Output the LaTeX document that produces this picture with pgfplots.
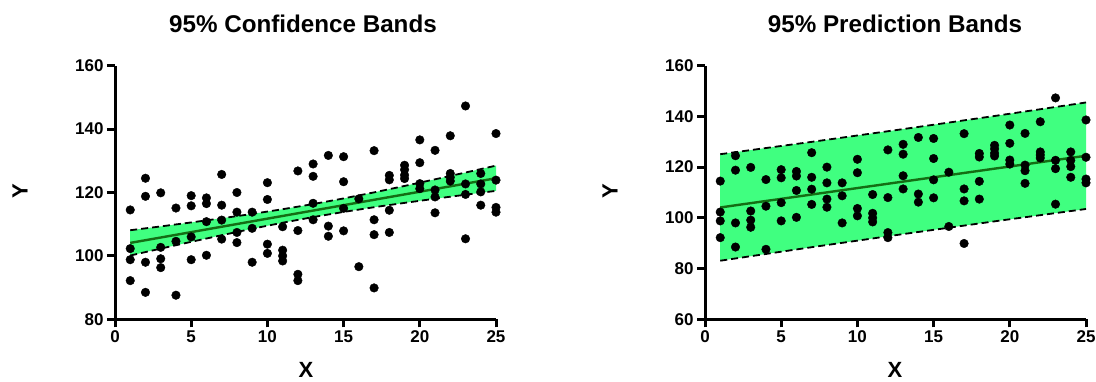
\documentclass[border=0pt]{standalone}
\usepackage{fontspec}
\setmainfont{Liberation Sans}
\usepackage{pgfplots}
\pgfplotsset{compat=1.18}
\usepackage{pgfplotstable}
\usepgfplotslibrary{fillbetween}
\definecolor{bandgreen}{RGB}{64,255,128}
\definecolor{linegreen}{RGB}{20,110,20}

\pgfplotstableread{
x y
1 114.5
1 102.3
1 98.8
1 92.2
2 124.5
2 118.8
2 98.0
2 88.5
3 119.9
3 102.7
3 99.1
3 96.3
4 115.1
4 104.6
4 87.6
5 119.0
5 115.8
5 106.0
5 98.8
6 118.3
6 116.5
6 110.8
6 100.2
7 125.7
7 116.0
7 111.3
7 105.3
8 120.0
8 113.8
8 107.4
8 104.2
9 113.8
9 108.7
9 98.0
10 123.1
10 117.8
10 103.7
10 100.8
11 109.2
11 101.8
11 100.0
11 98.4
12 126.8
12 108.0
12 94.2
12 92.2
13 129.0
13 125.1
13 116.6
13 111.4
14 131.7
14 109.4
14 106.2
15 131.3
15 123.4
15 115.0
15 107.9
16 118.0
16 96.6
17 133.2
17 111.4
17 106.7
17 89.9
18 125.4
18 124.0
18 114.4
18 107.4
19 128.6
19 127.2
19 125.5
19 124.4
20 136.6
20 129.4
20 122.8
20 121.2
21 133.3
21 120.8
21 118.6
21 113.6
22 137.9
22 126.0
22 124.8
22 123.6
23 147.3
23 122.7
23 119.4
23 105.4
24 126.0
24 122.7
24 120.2
24 116.0
25 138.6
25 123.9
25 115.3
25 113.8
}\pointdata

\pgfplotstableread{
x fit cup clo
1 104.1 108.10 100.12
3 105.8 109.30 102.30
5 107.5 110.56 104.44
7 109.2 111.87 106.53
9 110.9 113.24 108.56
11 112.6 114.73 110.47
13 114.3 116.35 112.25
15 116.0 118.13 113.87
17 117.7 120.04 115.36
19 119.4 122.07 116.73
21 121.1 124.16 118.04
23 122.8 126.30 119.30
25 124.5 128.48 120.52
}\confdata

\pgfplotstableread{
x fit pup plo
1 104.1 125.10 83.10
7 109.2 129.97 88.43
13 114.3 135.00 93.60
19 119.4 140.17 98.63
25 124.5 145.50 103.50
}\preddata

\pgfplotsset{
  myaxis/.style={
    scale only axis,
    anchor=south west,
    axis x line*=bottom,
    axis y line*=left,
    axis line style={line width=3pt, black},
    every tick/.style={line width=3pt, black},
    major tick length=8pt,
    tick align=outside,
    xmin=0, xmax=25,
    xtick={0,5,10,15,20,25},
    ticklabel style={font=\bfseries\fontsize{17}{17}\selectfont},
    /pgf/number format/assume math mode=true,
    clip=false,
  },
  dots/.style={only marks, mark=*, mark size=4.3pt, black},
  dashb/.style={black, line width=1.8pt, dash pattern=on 7pt off 4pt},
}

\begin{document}
\begin{tikzpicture}

\begin{axis}[myaxis, at={(115pt,61.7pt)}, width=381pt, height=253.6pt,
  ymin=80, ymax=160, ytick={80,100,120,140,160}]
  \addplot[draw=none, name path=cu] table[x=x, y=cup] {\confdata};
  \addplot[draw=none, name path=cl] table[x=x, y=clo] {\confdata};
  \addplot[bandgreen, draw=none] fill between[of=cu and cl];
  \addplot[dashb] table[x=x, y=cup] {\confdata};
  \addplot[dashb] table[x=x, y=clo] {\confdata};
  \addplot[linegreen, line width=2.4pt] table[x=x, y=fit] {\confdata};
  \addplot[dots] table[x=x, y=y] {\pointdata};
\end{axis}

\begin{axis}[myaxis, at={(705pt,61.7pt)}, width=381pt, height=253.6pt,
  ymin=60, ymax=160, ytick={60,80,100,120,140,160}]
  \addplot[draw=none, name path=pu] table[x=x, y=pup] {\preddata};
  \addplot[draw=none, name path=pl] table[x=x, y=plo] {\preddata};
  \addplot[bandgreen, draw=none] fill between[of=pu and pl];
  \addplot[dashb] table[x=x, y=pup] {\preddata};
  \addplot[dashb] table[x=x, y=plo] {\preddata};
  \addplot[linegreen, line width=2.4pt] table[x=x, y=fit] {\preddata};
  \addplot[dots] table[x=x, y=y] {\pointdata};
\end{axis}

\node[font=\bfseries\fontsize{24.2}{24.2}\selectfont] at (303pt,357pt) {95\% Confidence Bands};
\node[font=\bfseries\fontsize{24.2}{24.2}\selectfont] at (895pt,357pt) {95\% Prediction Bands};
\node[font=\bfseries\fontsize{22}{22}\selectfont, inner sep=0pt] at (306pt,11pt) {X};
\node[font=\bfseries\fontsize{22}{22}\selectfont, inner sep=0pt] at (895pt,11pt) {X};
\node[font=\bfseries\fontsize{22}{22}\selectfont, rotate=90, inner sep=0pt] at (20pt,190pt) {Y};
\node[font=\bfseries\fontsize{22}{22}\selectfont, rotate=90, inner sep=0pt] at (610pt,190pt) {Y};

\pgfresetboundingbox
\path[use as bounding box] (0,0) rectangle (1096pt,381pt);
\end{tikzpicture}
\end{document}
